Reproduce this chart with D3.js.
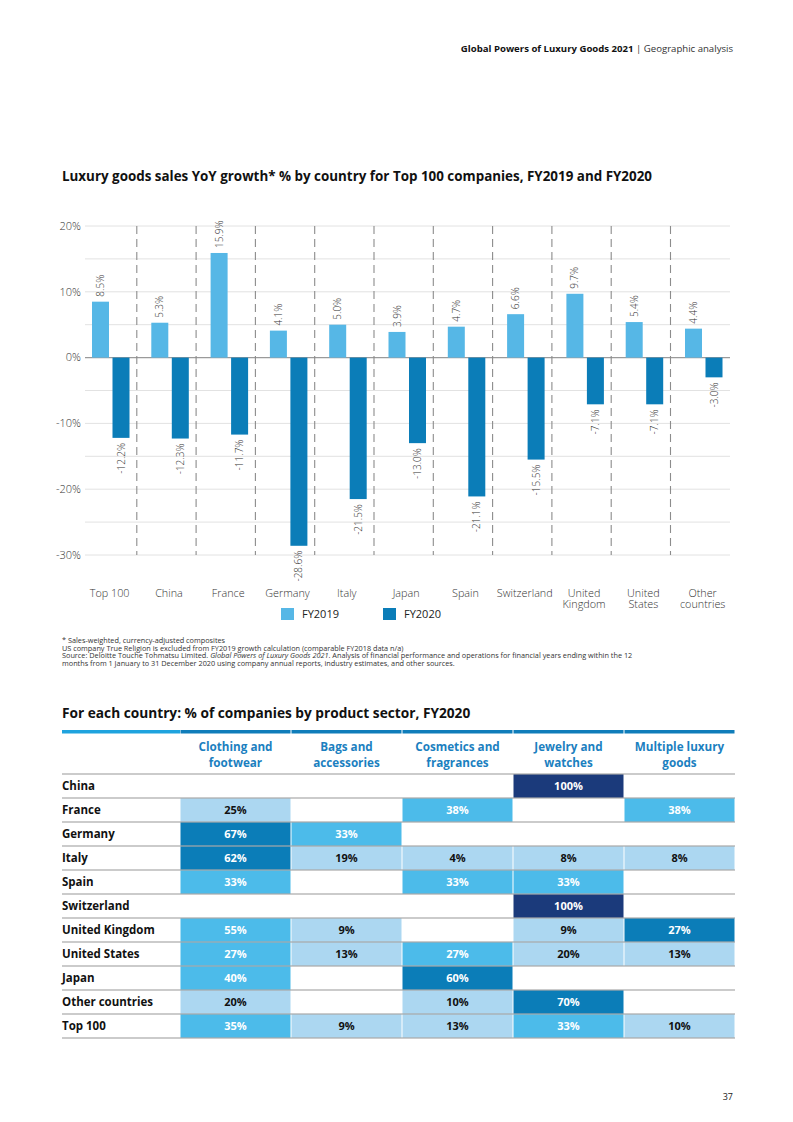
<!DOCTYPE html>
<html>
<head>
<meta charset="utf-8">
<script src="https://cdn.jsdelivr.net/npm/d3@7"></script>
<style>
  body { margin: 0; background: #fff; }
  svg { display: block; font-family: 'Open Sans', sans-serif; }
</style>
</head>
<body>
<script>
// ---- chart data ----
const countries = ["Top 100", "China", "France", "Germany", "Italy", "Japan", "Spain",
  "Switzerland", "United Kingdom", "United States", "Other countries"]
const countryLines = [["Top 100"], ["China"], ["France"], ["Germany"], ["Italy"], ["Japan"],
  ["Spain"], ["Switzerland"], ["United", "Kingdom"], ["United", "States"], ["Other", "countries"]]
const fy2019 = [8.5, 5.3, 15.9, 4.1, 5.0, 3.9, 4.7, 6.6, 9.7, 5.4, 4.4]
const fy2020 = [-12.2, -12.3, -11.7, -28.6, -21.5, -13.0, -21.1, -15.5, -7.1, -7.1, -3.0]
const yTicks = [20, 10, 0, -10, -20, -30]
const yGrid = [20, 15, 10, 5, 0, -5, -10, -15, -20, -25, -30]
const seriesNames = ["FY2019", "FY2020"]

// ---- table data ----
const sectors = [["Clothing and", "footwear"], ["Bags and", "accessories"],
  ["Cosmetics and", "fragrances"], ["Jewelry and", "watches"], ["Multiple luxury", "goods"]]
const tableRows = ["China", "France", "Germany", "Italy", "Spain", "Switzerland",
  "United Kingdom", "United States", "Japan", "Other countries", "Top 100"]
const tableValues = [
  [null, null, null, 100, null],
  [25, null, 38, null, 38],
  [67, 33, null, null, null],
  [62, 19, 4, 8, 8],
  [33, null, 33, 33, null],
  [null, null, null, 100, null],
  [55, 9, null, 9, 27],
  [27, 13, 27, 20, 13],
  [40, null, 60, null, null],
  [20, null, 10, 70, null],
  [35, 9, 13, 33, 10]
]
// shade used in the original for each cell (1 light .. 4 navy)
const tableShades = [
  [0, 0, 0, 4, 0],
  [1, 0, 2, 0, 2],
  [3, 2, 0, 0, 0],
  [3, 1, 1, 1, 1],
  [2, 0, 2, 2, 0],
  [0, 0, 0, 4, 0],
  [2, 1, 0, 1, 3],
  [2, 1, 2, 1, 1],
  [2, 0, 3, 0, 0],
  [1, 0, 1, 3, 0],
  [2, 1, 1, 2, 1]
]

const c19 = "#56b7e6", c20 = "#0b7db8"
const shadeFill = [null, "#acd7f1", "#4cbbea", "#0b7db8", "#1b3a7b"]
const shadeText = [null, "#111", "#fff", "#fff", "#fff"]

const width = 793, height = 1122
const svg = d3.select("body").append("svg")
  .attr("width", width)
  .attr("height", height)

// page header
const head = svg.append("text")
  .attr("x", 733).attr("y", 52)
  .attr("text-anchor", "end")
  .attr("font-size", 9.6).attr("fill", "#111")
head.append("tspan").attr("font-weight", 700).text("Global Powers of Luxury Goods 2021")
head.append("tspan").attr("fill", "#333").text("  |  Geographic analysis")

// chart title
svg.append("text")
  .attr("x", 62).attr("y", 181)
  .attr("font-size", 13.4).attr("font-weight", 700).attr("fill", "#111")
  .text("Luxury goods sales YoY growth* % by country for Top 100 companies, FY2019 and FY2020")

// scales
let x = d3.scaleBand().domain(countries).range([78, 671 + 59.3]).paddingInner(0).paddingOuter(0)
let y = d3.scaleLinear().domain([-30, 20]).range([555, 226])

const chart = svg.append("g")

// gridlines
chart.selectAll("line.grid")
  .data(yGrid)
  .enter()
  .append("line")
  .attr("x1", 85).attr("x2", 730)
  .attr("y1", d => y(d)).attr("y2", d => y(d))
  .attr("stroke", d => d === 0 ? "#9a9a9a" : "#e2e2e2")
  .attr("stroke-width", d => d === 0 ? 1.3 : 1)

// y axis labels
chart.selectAll("text.ytick")
  .data(yTicks)
  .enter()
  .append("text")
  .attr("x", 81).attr("y", d => y(d))
  .attr("dy", "0.35em")
  .attr("text-anchor", "end")
  .attr("font-size", 11).attr("font-weight", 300).attr("fill", "#333")
  .text(d => d + "%")

// dashed separators between groups
chart.selectAll("line.sep")
  .data(countries.slice(1))
  .enter()
  .append("line")
  .attr("x1", d => x(d) - 0.5).attr("x2", d => x(d) - 0.5)
  .attr("y1", y(20)).attr("y2", y(-30))
  .attr("stroke", "#8c8c8c").attr("stroke-width", 1.1)
  .attr("stroke-dasharray", "8,5")

const barW = 17
const offsets = [14, 34.5]
const series = [fy2019, fy2020]
const colors = [c19, c20]

series.forEach((vals, si) => {
  chart.selectAll("rect.s" + si)
    .data(vals)
    .enter()
    .append("rect")
    .attr("x", (d, i) => x(countries[i]) + offsets[si])
    .attr("width", barW)
    .attr("y", d => d >= 0 ? y(d) : y(0))
    .attr("height", d => Math.abs(y(d) - y(0)))
    .attr("fill", colors[si])

  chart.selectAll("text.v" + si)
    .data(vals)
    .enter()
    .append("text")
    .attr("transform", (d, i) => {
      let cx = x(countries[i]) + offsets[si] + barW / 2
      let cy = d >= 0 ? y(d) - 5 : y(d) + 5
      return "translate(" + cx + "," + cy + ") rotate(-90)"
    })
    .attr("dy", "0.35em")
    .attr("text-anchor", d => d >= 0 ? "start" : "end")
    .attr("font-size", 10).attr("font-weight", 300).attr("fill", "#333")
    .text(d => d.toFixed(1) + "%")
})

// x axis labels
countryLines.forEach((lines, i) => {
  let cx = x(countries[i]) + x.bandwidth() / 2 + 2
  let t = chart.append("text")
    .attr("y", 597)
    .attr("text-anchor", "middle")
    .attr("font-size", 10.8).attr("font-weight", 300).attr("fill", "#333")
  lines.forEach((l, j) => {
    t.append("tspan")
      .attr("x", cx)
      .attr("dy", j === 0 ? 0 : 11)
      .text(l)
  })
})

// legend
const legendX = [281, 383]
seriesNames.forEach((name, i) => {
  svg.append("rect")
    .attr("x", legendX[i]).attr("y", 608)
    .attr("width", 13).attr("height", 12)
    .attr("fill", colors[i])
  svg.append("text")
    .attr("x", legendX[i] + 21).attr("y", 614)
    .attr("dy", "0.35em")
    .attr("font-size", 11).attr("fill", "#222")
    .text(name)
})

// footnotes
const notes = svg.append("g").attr("font-size", 7.3).attr("fill", "#333")
notes.append("text").attr("x", 62).attr("y", 643).text("* Sales-weighted, currency-adjusted composites")
notes.append("text").attr("x", 62).attr("y", 650.5).text("US company True Religion is excluded from FY2019 growth calculation (comparable FY2018 data n/a)")
let src = notes.append("text").attr("x", 62).attr("y", 658)
src.append("tspan").text("Source: Deloitte Touche Tohmatsu Limited. ")
src.append("tspan").attr("font-style", "italic").text("Global Powers of Luxury Goods 2021")
src.append("tspan").text(". Analysis of financial performance and operations for financial years ending within the 12")
notes.append("text").attr("x", 62).attr("y", 665.5).text("months from 1 January to 31 December 2020 using company annual reports, industry estimates, and other sources.")

// ---- table ----
svg.append("text")
  .attr("x", 62).attr("y", 718)
  .attr("font-size", 13.7).attr("font-weight", 700).attr("fill", "#111")
  .text("For each country: % of companies by product sector, FY2020")

let col = d3.scaleBand().domain(d3.range(sectors.length)).range([180, 735])
let row = d3.scaleBand().domain(tableRows).range([774, 774 + 24 * tableRows.length])

// top coloured rule
svg.append("rect").attr("x", 62).attr("y", 730).attr("width", 118).attr("height", 3.5).attr("fill", "#1fa3de")
svg.selectAll("rect.toprule")
  .data(sectors)
  .enter()
  .append("rect")
  .attr("x", (d, i) => col(i) + 0.5)
  .attr("y", 730)
  .attr("width", col.bandwidth() - 1)
  .attr("height", 3.5)
  .attr("fill", "#0f7dba")

// column headers
sectors.forEach((lines, i) => {
  let t = svg.append("text")
    .attr("text-anchor", "middle")
    .attr("font-size", 11.7).attr("font-weight", 700).attr("fill", "#1b7fc0")
  lines.forEach((l, j) => {
    t.append("tspan")
      .attr("x", col(i) + col.bandwidth() / 2)
      .attr("y", 751 + j * 16)
      .text(l)
  })
})

// cells
tableValues.forEach((vals, r) => {
  vals.forEach((v, c) => {
    if (v === null) return
    let s = tableShades[r][c]
    svg.append("rect")
      .attr("x", col(c) + 0.5)
      .attr("y", row(tableRows[r]))
      .attr("width", col.bandwidth() - 1)
      .attr("height", row.bandwidth())
      .attr("fill", shadeFill[s])
    svg.append("text")
      .attr("x", col(c) + col.bandwidth() / 2)
      .attr("y", row(tableRows[r]) + row.bandwidth() / 2)
      .attr("dy", "0.35em")
      .attr("text-anchor", "middle")
      .attr("font-size", 11).attr("font-weight", 700)
      .attr("fill", shadeText[s])
      .text(v + "%")
  })
})

// row rules
svg.selectAll("line.rowrule")
  .data(d3.range(tableRows.length + 1))
  .enter()
  .append("line")
  .attr("x1", 62).attr("x2", 735)
  .attr("y1", i => 774 + 24 * i).attr("y2", i => 774 + 24 * i)
  .attr("stroke", "#a9a9a9")
  .attr("stroke-opacity", 0.8)
  .attr("stroke-width", 1.5)

// row labels
svg.selectAll("text.rowlabel")
  .data(tableRows)
  .enter()
  .append("text")
  .attr("x", 62)
  .attr("y", d => row(d) + row.bandwidth() / 2)
  .attr("dy", "0.35em")
  .attr("font-size", 11.5).attr("font-weight", 700).attr("fill", "#111")
  .text(d => d)

// page number
svg.append("text")
  .attr("x", 733).attr("y", 1100)
  .attr("text-anchor", "end")
  .attr("font-size", 9).attr("fill", "#222")
  .text("37")
</script>
</body>
</html>
